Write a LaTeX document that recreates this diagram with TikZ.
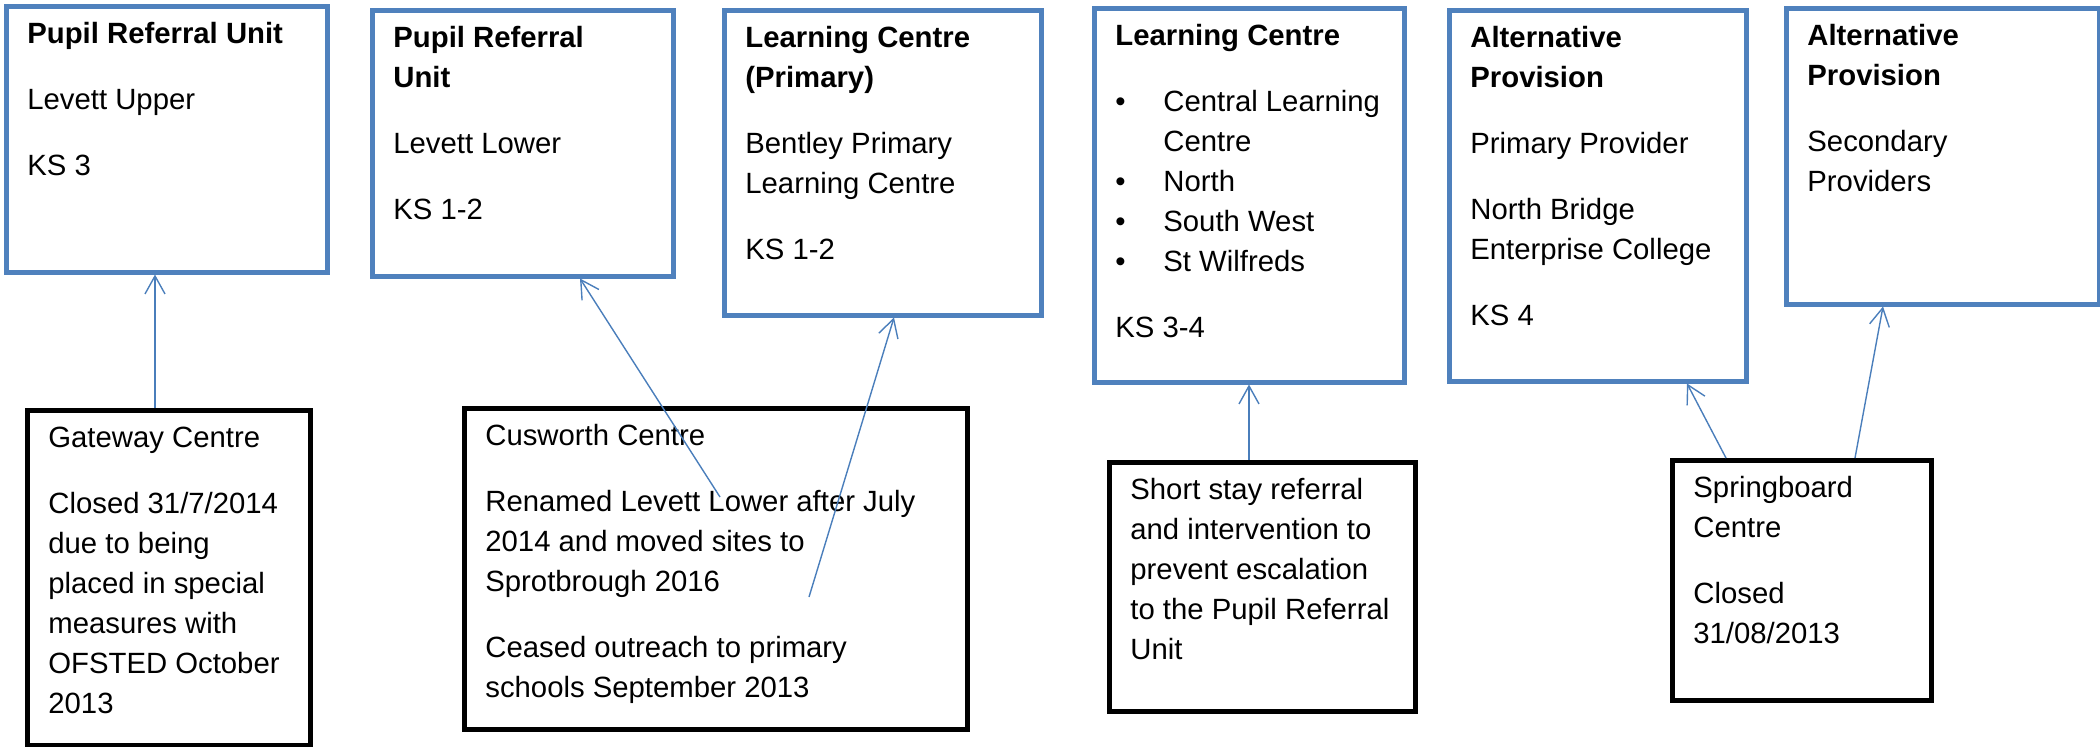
\documentclass[tikz,border=0pt]{standalone}
\usepackage{fontspec}
\setmainfont{Liberation Sans}
\usetikzlibrary{arrows.meta}
\definecolor{boxblue}{HTML}{4F81BD}
\definecolor{arrowblue}{HTML}{4A7EBB}
% text block: first baseline at the node's base, fixed leading and paragraph gap
\newcommand{\cellbody}[1]{\parbox[t]{260pt}{\raggedright\fontsize{14.65pt}{20pt}\selectfont\setlength{\parskip}{13pt}#1}}
\newcommand{\bul}{\makebox[24pt][l]{\textbullet}}
\begin{document}
\begin{tikzpicture}[x=0.5pt,y=-0.5pt,
  bluebox/.style={draw=boxblue,line width=2.25pt,rectangle,inner sep=0pt,anchor=north west},
  blackbox/.style={draw=black,line width=2.6pt,rectangle,inner sep=0pt,anchor=north west},
  txt/.style={anchor=base west,inner sep=0pt},
  arr/.style={draw=arrowblue,line width=0.7pt,-{Straight Barb[length=9pt,width=10pt]}}]
\useasboundingbox (0,0) rectangle (2100,746);

% upper row: provisions
\node[bluebox,minimum width=160.5pt,minimum height=133pt] (A) at (4,4) {};
\node[bluebox,minimum width=150.5pt,minimum height=133pt] (B) at (370,8) {};
\node[bluebox,minimum width=158.5pt,minimum height=152.5pt] (C) at (722,8) {};
\node[bluebox,minimum width=155pt,minimum height=187pt] (D) at (1092,6) {};
\node[bluebox,minimum width=148.5pt,minimum height=185.5pt] (E) at (1447,8) {};
\node[bluebox,minimum width=156.5pt,minimum height=148pt] (F) at (1784,6) {};

% lower row: former centres
\node[blackbox,minimum width=141.5pt,minimum height=167.5pt] (G) at (25,408) {};
\node[blackbox,minimum width=251.5pt,minimum height=160.5pt] (H) at (462,406) {};
\node[blackbox,minimum width=153pt,minimum height=124.5pt] (I) at (1107,460) {};
\node[blackbox,minimum width=129.5pt,minimum height=120pt] (J) at (1670,458) {};

% box texts
\node[txt] (At) at ([shift={(23,39)}]A.north west) {\cellbody{\textbf{Pupil Referral Unit}\par Levett Upper\par KS 3}};
\node[txt] (Bt) at ([shift={(23,39)}]B.north west) {\cellbody{\textbf{Pupil Referral\\Unit}\par Levett Lower\par KS 1-2}};
\node[txt] (Ct) at ([shift={(23,39)}]C.north west) {\cellbody{\textbf{Learning Centre\\(Primary)}\par Bentley Primary\\Learning Centre\par KS 1-2}};
\node[txt] (Dt) at ([shift={(23,39)}]D.north west) {\cellbody{\textbf{Learning Centre}\par
  \bul Central Learning\\\hspace*{24pt}Centre\\\bul North\\\bul South West\\\bul St Wilfreds\par KS 3-4}};
\node[txt] (Et) at ([shift={(23,39)}]E.north west) {\cellbody{\textbf{Alternative\\Provision}\par Primary Provider\par North Bridge\\Enterprise College\par KS 4}};
\node[txt] (Ft) at ([shift={(23,39)}]F.north west) {\cellbody{\textbf{Alternative\\Provision}\par Secondary\\Providers}};

\node[txt] (Gt) at ([shift={(23,39)}]G.north west) {\cellbody{Gateway Centre\par Closed 31/7/2014\\due to being\\placed in special\\measures with\\OFSTED October\\2013}};
\node[txt] (Ht) at ([shift={(23,39)}]H.north west) {\cellbody{Cusworth Centre\par Renamed Levett Lower after July\\2014 and moved sites to\\Sprotbrough 2016\par Ceased outreach to primary\\schools September 2013}};
\node[txt] (It) at ([shift={(23,39)}]I.north west) {\cellbody{Short stay referral\\and intervention to\\prevent escalation\\to the Pupil Referral\\Unit}};
\node[txt] (Jt) at ([shift={(23,39)}]J.north west) {\cellbody{Springboard\\Centre\par Closed\\31/08/2013}};

% connectors
\coordinate (hB) at (720,497);
\coordinate (hC) at (809,597);
\draw[arr] (155,0 |- G.north) -- (155,0 |- A.south);
\draw[arr] (hB) -- (580,0 |- B.south);
\draw[arr] (hC) -- (894,0 |- C.south);
\draw[arr] (1249,0 |- I.north) -- (1249,0 |- D.south);
\draw[arr] (1726,0 |- J.north) -- (1687,0 |- E.south);
\draw[arr] (1855,0 |- J.north) -- (1883,0 |- F.south);
\end{tikzpicture}
\end{document}
